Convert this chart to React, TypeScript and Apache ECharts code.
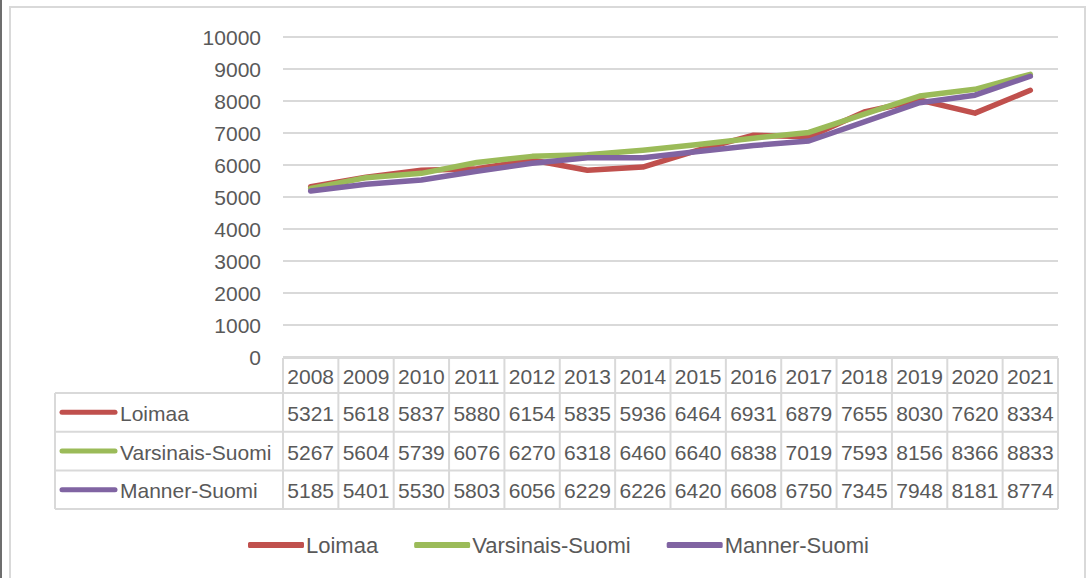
import React, { useEffect, useRef } from "react";
import * as echarts from "echarts";

const years = ["2008","2009","2010","2011","2012","2013","2014","2015","2016","2017","2018","2019","2020","2021"];
const seriesNames = ["Loimaa", "Varsinais-Suomi", "Manner-Suomi"];
const loimaa = [5321,5618,5837,5880,6154,5835,5936,6464,6931,6879,7655,8030,7620,8334];
const varsinaisSuomi = [5267,5604,5739,6076,6270,6318,6460,6640,6838,7019,7593,8156,8366,8833];
const mannerSuomi = [5185,5401,5530,5803,6056,6229,6226,6420,6608,6750,7345,7948,8181,8774];
const seriesColors = ["#C0504D", "#9BBB59", "#8064A2"];
const yTicks = { min: 0, max: 10000, interval: 1000 };

const FONT = "'Liberation Sans', Arial, sans-serif";
const TEXT = "#595959";
const BORDER = "#D9D9D9";

const GRID_LEFT = 283;
const GRID_RIGHT = 1058;
const GRID_TOP = 37;
const GRID_BOTTOM = 357;

export default function App() {
  const ref = useRef<HTMLDivElement>(null);
  useEffect(() => {
    if (!ref.current) return;
    const chart = echarts.init(ref.current, null, { renderer: "svg" });
    const allData = [loimaa, varsinaisSuomi, mannerSuomi];
    const colW = (GRID_RIGHT - GRID_LEFT) / years.length;
    const headerTop = 358;
    const headerBottom = 393;
    const rowH = 38.7;
    const tableLeft = 55;
    const tableBottom = headerBottom + rowH * 3;

    const g: any[] = [];
    // outer frame
    g.push({ type: "rect", shape: { x: 10, y: 7, width: 1075, height: 620 }, style: { fill: "none", stroke: BORDER, lineWidth: 2 }, silent: true });
    g.push({ type: "line", shape: { x1: 1, y1: 0, x2: 1, y2: 578 }, style: { stroke: "#6E6E6E", lineWidth: 2 }, silent: true });

    const line = (x1: number, y1: number, x2: number, y2: number) =>
      g.push({ type: "line", shape: { x1, y1, x2, y2 }, style: { stroke: BORDER, lineWidth: 2 }, silent: true });

    // horizontal lines
    line(GRID_LEFT, headerTop, GRID_RIGHT, headerTop);
    for (let r = 0; r <= 3; r++) {
      const y = headerBottom + r * rowH;
      line(tableLeft, y, GRID_RIGHT, y);
    }
    // vertical lines
    line(tableLeft, headerBottom, tableLeft, tableBottom);
    for (let c = 0; c <= years.length; c++) {
      const x = GRID_LEFT + c * colW;
      line(x, headerTop, x, tableBottom);
    }
    // header texts
    years.forEach((yr, i) => {
      g.push({
        type: "text",
        x: GRID_LEFT + (i + 0.5) * colW,
        y: (headerTop + headerBottom) / 2 + 1,
        style: { text: yr, fill: TEXT, font: `21px ${FONT}`, align: "center", verticalAlign: "middle" },
        silent: true,
      });
    });
    // data rows
    seriesNames.forEach((name, r) => {
      const cy = headerBottom + (r + 0.5) * rowH + 1;
      g.push({
        type: "line",
        shape: { x1: 62, y1: cy - 1, x2: 115, y2: cy - 1 },
        style: { stroke: seriesColors[r], lineWidth: 5, lineCap: "round" },
        silent: true,
      });
      g.push({
        type: "text",
        x: 120,
        y: cy,
        style: { text: name, fill: TEXT, font: `21px ${FONT}`, align: "left", verticalAlign: "middle" },
        silent: true,
      });
      allData[r].forEach((v, i) => {
        g.push({
          type: "text",
          x: GRID_LEFT + (i + 0.5) * colW,
          y: cy,
          style: { text: String(v), fill: TEXT, font: `21px ${FONT}`, align: "center", verticalAlign: "middle" },
          silent: true,
        });
      });
    });

    chart.setOption({
      animation: false,
      backgroundColor: "#FFFFFF",
      grid: {
        left: GRID_LEFT,
        top: GRID_TOP,
        width: GRID_RIGHT - GRID_LEFT,
        height: GRID_BOTTOM - GRID_TOP,
        containLabel: false,
      },
      xAxis: {
        type: "category",
        data: years,
        boundaryGap: true,
        axisLine: { show: false },
        axisTick: { show: false },
        axisLabel: { show: false },
        splitLine: { show: false },
      },
      yAxis: {
        type: "value",
        min: yTicks.min,
        max: yTicks.max,
        interval: yTicks.interval,
        axisLine: { show: false },
        axisTick: { show: false },
        axisLabel: { color: TEXT, fontSize: 21, fontFamily: FONT, margin: 22, formatter: (v: number) => String(v) },
        splitLine: { lineStyle: { color: BORDER, width: 2 } },
      },
      legend: {
        bottom: 17,
        left: 243,
        icon: "roundRect",
        itemWidth: 56,
        itemHeight: 6,
        itemGap: 36,
        textStyle: { color: TEXT, fontSize: 22, fontFamily: FONT, padding: [0, 0, 0, -3] },
        data: seriesNames,
      },
      series: seriesNames.map((name, i) => ({
        name,
        type: "line",
        data: allData[i],
        symbol: "none",
        color: seriesColors[i],
        lineStyle: { width: 5.5, color: seriesColors[i], cap: "round", join: "round" },
        z: 2 + i,
      })),
      graphic: g,
    });
    return () => chart.dispose();
  }, []);
  return <div ref={ref} style={{ position: "fixed", left: 0, top: 0, width: 1087, height: 578 }} />;
}
